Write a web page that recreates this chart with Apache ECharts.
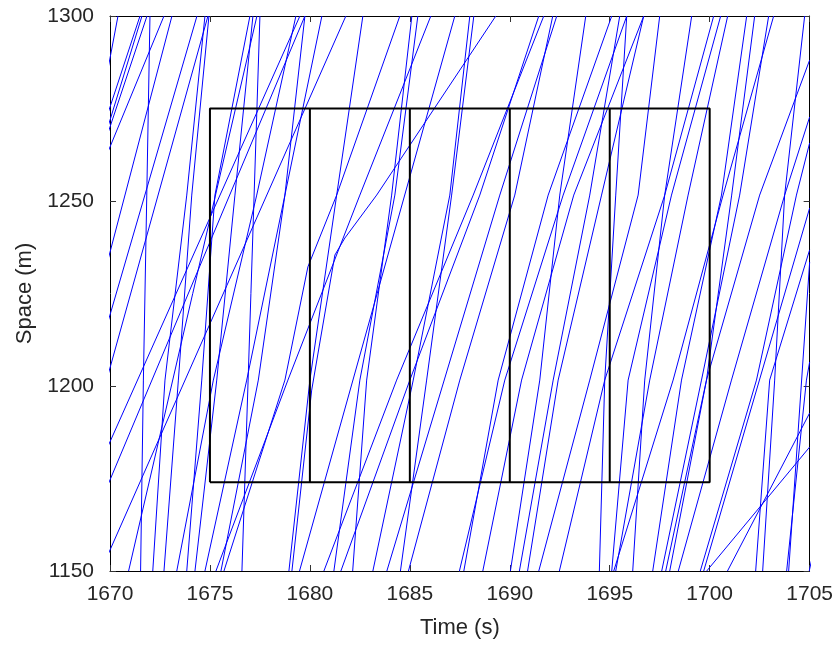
<!DOCTYPE html>
<html>
<head>
<meta charset="utf-8">
<script src="https://cdn.jsdelivr.net/npm/echarts@6/dist/echarts.min.js"></script>
<style>
  html, body { margin: 0; padding: 0; background: #fff; }
  #chart { width: 836px; height: 646px; }
</style>
</head>
<body>
<div id="chart"></div>
<script>
// Axis ticks
const timeTicks = [1670, 1675, 1680, 1685, 1690, 1695, 1700, 1705];
const spaceTicks = [1150, 1200, 1250, 1300];

// Detector boxes: time boundaries and space extent
const boxTimes = [1675, 1680, 1685, 1690, 1695, 1700];
const boxSpace = [1174, 1275];

// Vehicle trajectories, [time (s), space (m)]
const veh01 = [[1668, 1231.6], [1670.4, 1300]];
const veh02 = [[1668, 1242.6], [1671.5, 1300]];
const veh03 = [[1668, 1236.7], [1671.6, 1300]];
const veh04 = [[1668, 1237.6], [1671.85, 1300]];
const veh05 = [[1668, 1238.4], [1672.7, 1300]];
const veh06 = [[1668, 1195.0], [1673.1, 1300]];
const veh07 = [[1668, 1182.1], [1674.35, 1300]];
const veh08 = [[1668, 1166.1], [1674.9, 1300]];
const veh09 = [[1668, 1160.7], [1679.5, 1300]];
const veh10 = [[1668, 1148.9], [1679.75, 1300]];
const veh11 = [[1668, 1131.2], [1681.8, 1300]];
const veh12 = [[1672.14, 1150], [1672.75, 1201.6], [1673.84, 1251.6], [1674.75, 1300]];
const veh13 = [[1672.7, 1150], [1673.42, 1201.6], [1674.09, 1251.6], [1674.95, 1300]];
const veh14 = [[1674.25, 1150], [1675.34, 1201.6], [1676.25, 1251.6], [1677.15, 1300]];
const veh15 = [[1676.6, 1150], [1677.5, 1300]];
const veh16 = [[1673.34, 1150], [1675.17, 1201.6], [1677.34, 1251.6], [1679.3, 1300]];
const veh17 = [[1670.93, 1150], [1677.35, 1300]];
const veh18 = [[1671.53, 1150], [1671.67, 1201.6], [1671.84, 1251.6], [1672.0, 1300]];
const veh19 = [[1673.84, 1150], [1674.59, 1201.6], [1675.25, 1251.6], [1677.0, 1300]];
const veh20 = [[1674.75, 1150], [1676.84, 1201.6], [1678.75, 1251.6], [1680.6, 1300]];
const veh21 = [[1675.55, 1150], [1677.42, 1201.6], [1678.75, 1251.6], [1679.75, 1300]];
const veh22 = [[1675.7, 1150], [1678.75, 1201.6], [1679.9, 1232.2], [1681.34, 1251.6], [1684.5, 1300]];
const veh23 = [[1678.95, 1150], [1680.0, 1201.6], [1681.34, 1251.6], [1682.65, 1300]];
const veh24 = [[1682.14, 1150], [1682.84, 1201.6], [1684.09, 1251.6], [1685.1, 1300]];
const veh25 = [[1681.2, 1150], [1682.5, 1201.6], [1684.25, 1251.6], [1685.4, 1300]];
const veh26 = [[1679.1, 1150], [1680.09, 1198.9], [1681.25, 1235.4], [1681.75, 1240], [1683.34, 1251.6], [1689.3, 1300]];
const veh27 = [[1675.3, 1150], [1678.9, 1201.6], [1682.5, 1251.6], [1686.05, 1300]];
const veh28 = [[1684.53, 1150], [1685.84, 1201.6], [1687.09, 1251.6], [1688.2, 1300]];
const veh29 = [[1683.15, 1150], [1685.17, 1201.6], [1687.0, 1251.6], [1688.0, 1300]];
const veh30 = [[1680.7, 1150], [1684.34, 1201.6], [1688.17, 1251.6], [1691.7, 1300]];
const veh31 = [[1681.55, 1150], [1685.0, 1201.6], [1688.5, 1251.6], [1691.45, 1300]];
const veh32 = [[1679.48, 1150], [1687.25, 1300]];
const veh33 = [[1683.85, 1150], [1689.5, 1251.6], [1692.35, 1300]];
const veh34 = [[1684.93, 1150], [1687.5, 1201.6], [1690.25, 1251.6], [1692.15, 1300]];
const veh35 = [[1687.48, 1150], [1689.75, 1201.6], [1692.67, 1251.6], [1695.85, 1300]];
const veh36 = [[1687.7, 1150], [1689.42, 1201.6], [1691.92, 1251.6], [1695.1, 1300]];
const veh37 = [[1688.65, 1150], [1690.59, 1201.6], [1693.2, 1251.6], [1696.7, 1300]];
const veh38 = [[1690.03, 1150], [1691.5, 1201.6], [1692.5, 1251.6], [1693.8, 1300]];
const veh39 = [[1690.48, 1150], [1692.17, 1201.6], [1694.0, 1251.6], [1695.5, 1300]];
const veh40 = [[1690.89, 1150], [1692.42, 1201.6], [1694.59, 1251.6], [1696.7, 1300]];
const veh41 = [[1691.45, 1150], [1694.0, 1201.6], [1696.42, 1251.6], [1697.5, 1300]];
const veh42 = [[1692.48, 1150], [1694.75, 1201.6], [1697.75, 1251.6], [1700.2, 1300]];
const veh43 = [[1694.48, 1150], [1694.75, 1201.6], [1695.3, 1251.6], [1695.85, 1300]];
const veh44 = [[1695.1, 1150], [1695.92, 1201.6], [1698.09, 1251.6], [1700.55, 1300]];
const veh45 = [[1695.3, 1150], [1697.0, 1201.6], [1698.92, 1251.6], [1700.9, 1300]];
const veh46 = [[1696.15, 1150], [1696.75, 1201.6], [1697.75, 1251.6], [1699.1, 1300]];
const veh47 = [[1695.2, 1150], [1698.17, 1201.6], [1700.67, 1251.6], [1703.2, 1300]];
const veh48 = [[1697.15, 1150], [1698.59, 1201.6], [1700.59, 1251.6], [1701.85, 1300]];
const veh49 = [[1698.0, 1150], [1699.84, 1201.6], [1701.1, 1251.6], [1702.25, 1300]];
const veh50 = [[1697.6, 1150], [1699.59, 1201.6], [1701.5, 1251.6], [1702.95, 1300]];
const veh51 = [[1697.8, 1150], [1699.84, 1201.6], [1702.5, 1251.6], [1705, 1288.1]];
const veh52 = [[1698.43, 1150], [1701.09, 1201.6], [1703.75, 1251.6], [1705, 1272.7]];
const veh53 = [[1699.53, 1150], [1702.34, 1201.6], [1704.34, 1251.6], [1705, 1265.7]];
const veh54 = [[1699.7, 1150], [1705, 1248.1]];
const veh55 = [[1699.85, 1150], [1705, 1183.5]];
const veh56 = [[1700.89, 1150], [1705, 1192.7]];
const veh57 = [[1702.3, 1150], [1703.0, 1201.6], [1705, 1236.8]];
const veh58 = [[1702.65, 1150], [1703.25, 1201.6], [1703.75, 1251.6], [1704.75, 1300]];
const veh59 = [[1703.85, 1150], [1704.84, 1201.6], [1705, 1206.5]];
const veh60 = [[1703.95, 1150], [1705, 1233.5]];
const veh61 = [[1704.98, 1150], [1706, 1175.5]];

const trajectories = [
  veh01, veh02, veh03, veh04, veh05, veh06, veh07, veh08, veh09, veh10,
  veh11, veh12, veh13, veh14, veh15, veh16, veh17, veh18, veh19, veh20,
  veh21, veh22, veh23, veh24, veh25, veh26, veh27, veh28, veh29, veh30,
  veh31, veh32, veh33, veh34, veh35, veh36, veh37, veh38, veh39, veh40,
  veh41, veh42, veh43, veh44, veh45, veh46, veh47, veh48, veh49, veh50,
  veh51, veh52, veh53, veh54, veh55, veh56, veh57, veh58, veh59, veh60,
  veh61
];

const FONT = 'Liberation Sans';
const TEXT = '#262626';

const series = trajectories.map(function (pts) {
  return {
    type: 'line',
    data: pts,
    showSymbol: false,
    silent: true,
    clip: true,
    lineStyle: { color: '#0000ff', width: 1 },
    z: 2
  };
});

// Box outlines: outer rectangle plus the inner vertical dividers
const t0 = boxTimes[0], t1 = boxTimes[boxTimes.length - 1];
const sLo = boxSpace[0], sHi = boxSpace[1];
series.push({
  type: 'line',
  data: [[t0, sLo], [t1, sLo], [t1, sHi], [t0, sHi], [t0, sLo]],
  showSymbol: false, silent: true,
  lineStyle: { color: '#000', width: 2 },
  z: 5
});
boxTimes.slice(1, -1).forEach(function (t) {
  series.push({
    type: 'line',
    data: [[t, sLo], [t, sHi]],
    showSymbol: false, silent: true,
    lineStyle: { color: '#000', width: 2 },
    z: 5
  });
});

const plain = function (v) { return String(v); };

const axisCommon = {
  type: 'value',
  splitLine: { show: false },
  axisLine: { show: true, onZero: false, lineStyle: { color: '#000', width: 1 } },
  axisTick: { show: true, inside: true, length: 6, lineStyle: { color: '#333' } }
};

const chart = echarts.init(document.getElementById('chart'), null, { renderer: 'canvas' });
chart.setOption({
  animation: false,
  backgroundColor: '#fff',
  grid: { left: 110, right: 26, top: 16, bottom: 75, containLabel: false },
  xAxis: [
    Object.assign({}, axisCommon, {
      min: timeTicks[0], max: timeTicks[timeTicks.length - 1], interval: 5,
      position: 'bottom',
      name: 'Time (s)', nameLocation: 'middle', nameGap: 46,
      nameTextStyle: { fontFamily: FONT, fontSize: 22, color: TEXT },
      axisLabel: { fontFamily: FONT, fontSize: 21, color: TEXT, margin: 13, formatter: plain }
    }),
    Object.assign({}, axisCommon, {
      min: timeTicks[0], max: timeTicks[timeTicks.length - 1], interval: 5,
      position: 'top', axisLabel: { show: false }
    })
  ],
  yAxis: [
    Object.assign({}, axisCommon, {
      min: spaceTicks[0], max: spaceTicks[spaceTicks.length - 1], interval: 50,
      position: 'left',
      name: 'Space (m)', nameLocation: 'middle', nameGap: 68, nameRotate: 90,
      nameTextStyle: { fontFamily: FONT, fontSize: 22, color: TEXT },
      axisLabel: { fontFamily: FONT, fontSize: 21, color: TEXT, margin: 16, formatter: plain }
    }),
    Object.assign({}, axisCommon, {
      min: spaceTicks[0], max: spaceTicks[spaceTicks.length - 1], interval: 50,
      position: 'right', axisLabel: { show: false }
    })
  ],
  series: series
});
</script>
</body>
</html>
